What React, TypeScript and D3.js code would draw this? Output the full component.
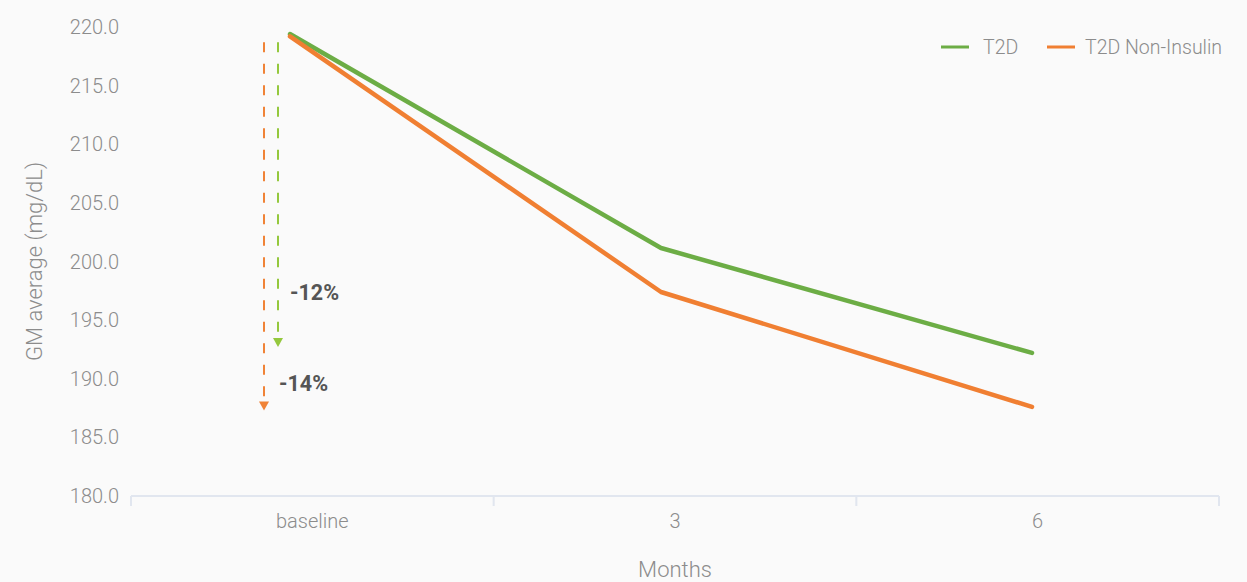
import React from "react";
import * as d3 from "d3";

const categories = ["baseline", "3", "6"];
const t2d = [219.4, 201.15, 192.2];
const t2dNonInsulin = [219.2, 197.4, 187.6];
const yTicks = [180, 185, 190, 195, 200, 205, 210, 215, 220];
const seriesNames = ["T2D", "T2D Non-Insulin"];
const arrowStart = [218.7, 218.7];
const arrowEnd = [192.7, 187.3];
const arrowLabels = ["-12%", "-14%"];
const arrowLabelValues = [197.4, 189.6];

const W = 1247;
const H = 582;
const FONT = "Roboto, 'Helvetica Neue', 'Liberation Sans', sans-serif";
const GREEN = "#6cad45";
const ORANGE = "#f07f32";
const GREEN_DASH = "#94c83d";
const ORANGE_DASH = "#f08337";
const TEXT = "#8c8c8c";

export default function App() {
  const x = d3.scaleBand<string>().domain(categories).range([131, 1219]).padding(0);
  const xLine = d3.scalePoint<string>().domain(categories).range([290, 1032]);
  const y = d3.scaleLinear().domain([180, 220]).range([496, 27]);
  const line = d3
    .line<number>()
    .x((_, i) => xLine(categories[i]) as number)
    .y((d) => y(d));

  const series = [
    { name: seriesNames[0], values: t2d, color: GREEN },
    { name: seriesNames[1], values: t2dNonInsulin, color: ORANGE },
  ];

  const arrows = [
    { x: 278, color: GREEN_DASH, start: arrowStart[0], end: arrowEnd[0], label: arrowLabels[0], lv: arrowLabelValues[0], lx: 290 },
    { x: 264, color: ORANGE_DASH, start: arrowStart[1], end: arrowEnd[1], label: arrowLabels[1], lv: arrowLabelValues[1], lx: 279 },
  ];

  const boundaries = [...categories.map((c) => x(c) as number), x.range()[1]];

  return (
    <svg
      width={W}
      height={H}
      style={{ position: "absolute", left: 0, top: 0, background: "#fafafa" }}
      fontFamily={FONT}
    >
      <rect x={0} y={0} width={W} height={H} fill="#fafafa" />
      {yTicks.map((t) => (
        <text
          key={t}
          x={119}
          y={y(t)}
          dy="0.35em"
          textAnchor="end"
          fontSize={20}
          fontWeight={300}
          fill={TEXT}
        >
          {t.toFixed(1)}
        </text>
      ))}
      <text
        transform={`translate(34,${y(200)}) rotate(-90)`}
        textAnchor="middle"
        dy="0.35em"
        fontSize={22}
        fontWeight={300}
        fill={TEXT}
      >
        GM average (mg/dL)
      </text>

      <line x1={x.range()[0]} x2={x.range()[1]} y1={y(180)} y2={y(180)} stroke="#e1e6ef" strokeWidth={2} />
      {boundaries.map((b, i) => (
        <line key={i} x1={b} x2={b} y1={y(180)} y2={y(180) + 10} stroke="#e1e6ef" strokeWidth={2} />
      ))}
      {categories.map((c) => (
        <text
          key={c}
          x={(x(c) as number) + x.bandwidth() / 2}
          y={521}
          dy="0.35em"
          textAnchor="middle"
          fontSize={20}
          fontWeight={300}
          fill={TEXT}
        >
          {c}
        </text>
      ))}
      <text x={(x.range()[0] + x.range()[1]) / 2} y={569} dy="0.35em" textAnchor="middle" fontSize={22} fontWeight={300} fill={TEXT}>
        Months
      </text>

      {arrows.map((a, i) => (
        <g key={i}>
          <line
            x1={a.x}
            x2={a.x}
            y1={y(a.start)}
            y2={y(a.end) - 8}
            stroke={a.color}
            strokeWidth={2}
            strokeDasharray="10 11.5"
          />
          <path
            d={`M${a.x - 5},${y(a.end) - 9} L${a.x + 5},${y(a.end) - 9} L${a.x},${y(a.end)} Z`}
            fill={a.color}
          />
          <text x={a.lx} y={y(a.lv)} dy="0.35em" fontSize={21.5} fontWeight={700} fill="#555555">
            {a.label}
          </text>
        </g>
      ))}

      {series.map((s) => (
        <path
          key={s.name}
          d={line(s.values) as string}
          fill="none"
          stroke={s.color}
          strokeWidth={4.5}
          strokeLinecap="round"
          strokeLinejoin="round"
        />
      ))}

      <g>
        <line x1={941} x2={969} y1={47} y2={47} stroke={GREEN} strokeWidth={3} />
        <text x={983} y={47} dy="0.35em" fontSize={19.5} fontWeight={300} fill={TEXT}>
          {seriesNames[0]}
        </text>
        <line x1={1047} x2={1075} y1={47} y2={47} stroke={ORANGE} strokeWidth={3} />
        <text x={1085} y={47} dy="0.35em" fontSize={19.5} fontWeight={300} fill={TEXT}>
          {seriesNames[1]}
        </text>
      </g>
    </svg>
  );
}
